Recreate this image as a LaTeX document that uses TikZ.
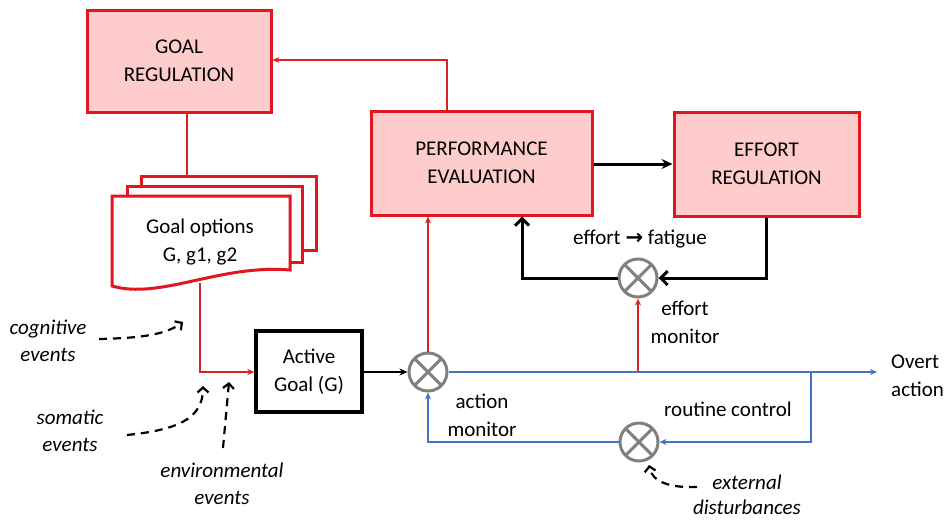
\documentclass[tikz,border=0pt]{standalone}
\usepackage{fontspec}
\setmainfont{Carlito}
\newfontfamily\arrowfont{DejaVu Sans}
\usetikzlibrary{arrows.meta}

\definecolor{boxred}{RGB}{226,22,30}
\definecolor{boxfill}{RGB}{255,204,204}
\definecolor{linkred}{RGB}{214,36,36}
\definecolor{flowblue}{RGB}{68,114,196}
\definecolor{sumgray}{RGB}{128,128,128}

\begin{document}
\begin{tikzpicture}[x=1pt,y=-1pt,
  font=\fontsize{21}{28}\selectfont,
  regbox/.style={draw=boxred, fill=boxfill, line width=3pt, align=center, inner sep=0pt},
  goalbox/.style={draw=black, fill=white, line width=3.5pt, align=center, inner sep=0pt},
  sheet/.style={draw=boxred, fill=white, line width=3pt},
  sumnode/.style={circle, draw=sumgray, line width=3pt, minimum size=38pt, inner sep=0pt,
    path picture={\draw[sumgray, line width=3pt]
      (path picture bounding box.north west) -- (path picture bounding box.south east)
      (path picture bounding box.north east) -- (path picture bounding box.south west);}},
  redlink/.style={draw=linkred, line width=2pt, -{Stealth[length=7pt,width=6pt]}},
  redplain/.style={draw=linkred, line width=2pt},
  bluelink/.style={draw=flowblue, line width=2pt, -{Stealth[length=7pt,width=6pt]}},
  blackfill/.style={draw=black, line width=3pt, -{Stealth[length=11pt,width=10pt]}},
  blackopen/.style={draw=black, line width=3pt, -{Straight Barb[length=7pt,width=14pt,line width=3pt]}},
  thinblack/.style={draw=black, line width=2pt, -{Stealth[length=8pt,width=7pt]}},
  dasharrow/.style={draw=black, line width=2.2pt, dash pattern=on 8pt off 6pt,
    -{Straight Barb[length=5pt,width=11pt,line width=2.2pt]}},
  lbl/.style={align=center, inner sep=0pt},
  evlbl/.style={align=center, inner sep=0pt, font=\fontsize{21}{27}\selectfont\itshape}]

\useasboundingbox (0,0) rectangle (952,520);

% regulation boxes
\node[regbox, minimum width=184pt, minimum height=102pt] (goalreg) at (179,61) {GOAL\\REGULATION};
\node[regbox, minimum width=221pt, minimum height=104pt] (perf) at (481.5,163) {PERFORMANCE\\EVALUATION};
\node[regbox, minimum width=185pt, minimum height=104pt] (effreg) at (766.5,164) {EFFORT\\REGULATION};

% stack of goal option sheets
\draw[sheet] (141,176) rectangle (316,250);
\draw[sheet] (127,186) rectangle (302,262);
\draw[sheet] (112,196) -- (290,196) -- (290,270)
  .. controls (220,264) and (160,300) .. (112,286) -- cycle;
\node[lbl] (opts) at (200,242) {Goal options\\G, g1, g2};

% active goal
\node[goalbox, minimum width=106pt, minimum height=81pt] (active) at (309,371.5) {Active\\Goal (G)};

% comparators
\node[sumnode] (actmon) at (428,372) {};
\node[sumnode] (effmon) at (638,278) {};
\node[sumnode] (routine) at (639,442) {};

% junctions and bends
\coordinate (perfup) at (447,60);
\coordinate (grdown) at (187,176);
\coordinate (docout) at (200,283);
\coordinate (merge) at (200,372);
\coordinate (overt) at (877,372);
\coordinate (efftap) at (638,372);
\coordinate (routtap) at (811,372);
\coordinate (effback) at (522,278);

% goal loop
\draw[redlink] (perfup |- perf.north) -- (perfup) -- (perfup -| goalreg.east);
\draw[redplain] (grdown |- goalreg.south) -- (grdown);
\draw[redlink] (docout) -- (merge) -- (merge -| active.west);
\draw[thinblack] (active.east |- actmon.west) -- (actmon.west);
\draw[redlink] (actmon.north) -- (actmon.north |- perf.south);

% effort loop
\draw[blackfill] (perf.east |- effreg.west) -- (effreg.west);
\draw[blackopen] (effreg.south) -- (effreg.south |- effmon.east) -- (effmon.east);
\draw[blackopen] (effmon.west) -- (effback) -- (effback |- perf.south);
\draw[redlink] (efftap) -- (effmon.south);

% action output and routine loop
\draw[bluelink] (actmon.east) -- (overt);
\draw[bluelink] (routtap) -- (routtap |- routine.east) -- (routine.east);
\draw[bluelink] (routine.west) -- (actmon.south |- routine.west) -- (actmon.south);

% labels
\node[lbl] (fatigue) at (640,239) {effort {\arrowfont\bfseries →} fatigue};
\node[lbl] (efflbl) at (685,322) {effort\\monitor};
\node[lbl] (actlbl) at (482,415) {action\\monitor};
\node[lbl] (routlbl) at (728,409) {routine control};
\node[lbl, align=left, anchor=west] (overtlbl) at (891,376) {Overt\\action};

% event sources
\node[evlbl] (cog) at (48,341) {cognitive\\events};
\node[evlbl] (som) at (70,431) {somatic\\events};
\node[evlbl] (env) at (222,484) {environmental\\events};
\node[evlbl, font=\fontsize{21}{25}\selectfont\itshape] (ext) at (747,495) {external\\disturbances};

\coordinate (cogstart) at (99,339);
\coordinate (cogend) at (183,322);
\coordinate (somstart) at (127,435);
\coordinate (somend) at (203,386);
\coordinate (envstart) at (223,448);
\coordinate (envend) at (229,382);
\coordinate (extstart) at (697,487);
\coordinate (extend) at (649,465);

\draw[dasharrow] (cogstart) .. controls (140,338) and (165,335) .. (cogend);
\draw[dasharrow] (somstart) .. controls (175,430) and (203,420) .. (somend);
\draw[dasharrow] (envstart) -- (envend);
\draw[dasharrow] (extstart) .. controls (670,488) and (652,482) .. (extend);

\end{tikzpicture}
\end{document}
